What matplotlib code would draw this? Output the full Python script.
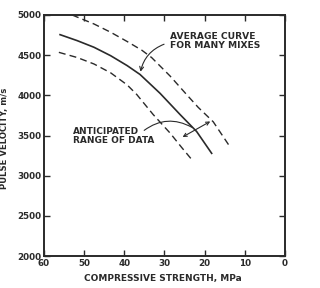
import matplotlib
matplotlib.use('Agg')
import matplotlib.pyplot as plt

# curves (compressive strength MPa, pulse velocity m/s)
avg_x = [56.0, 51.7, 47.55, 43.4, 39.3, 36.1, 31.1, 26.1, 22.0, 18.25]
avg_y = [4755, 4680, 4598, 4493, 4370, 4260, 4025, 3760, 3550, 3278]
upper_x = [53.0, 47.55, 43.4, 39.3, 35.6, 33.2, 28.6, 24.5, 21.6, 17.85, 13.7]
upper_y = [5000, 4888, 4785, 4670, 4560, 4470, 4240, 4010, 3850, 3670, 3360]
lower_x = [56.3, 51.7, 47.55, 43.4, 39.3, 36.9, 32.8, 28.6, 25.7, 23.2]
lower_y = [4535, 4470, 4390, 4280, 4130, 4010, 3760, 3530, 3350, 3200]

xticks = [60, 50, 40, 30, 20, 10, 0]
yticks = [2000, 2500, 3000, 3500, 4000, 4500, 5000]

col = '#2a2a2a'
plt.rcParams['font.family'] = 'DejaVu Sans'

fig = plt.figure(figsize=(3.2, 2.88), dpi=100)
ax = fig.add_axes([0.1375, 0.111, 0.753, 0.837])

ax.plot(avg_x, avg_y, color=col, lw=1.2)
ax.plot(upper_x, upper_y, color=col, lw=1.0, ls=(0, (5, 3)))
ax.plot(lower_x, lower_y, color=col, lw=1.0, ls=(0, (5, 3)))

ax.set_xlim(60, 0)
ax.set_ylim(2000, 5000)
ax.set_xticks(xticks)
ax.set_yticks(yticks)
ax.tick_params(direction='in', length=4, width=1, colors=col, labelsize=6.3,
               top=True, right=True, pad=2)
for lab in ax.get_xticklabels() + ax.get_yticklabels():
    lab.set_fontweight('bold')
for s in ax.spines.values():
    s.set_linewidth(1.4)
    s.set_color(col)

ax.set_xlabel('COMPRESSIVE STRENGTH, MPa', fontsize=6.5, fontweight='bold',
              color=col)
ax.xaxis.set_label_coords(0.492, -0.075)
ax.set_ylabel('PULSE VELOCITY, m/s', fontsize=6.1, fontweight='bold',
              color=col)
ax.yaxis.set_label_coords(-0.145, 0.49)

# annotations
ax.text(28.6, 4670, 'AVERAGE CURVE\nFOR MANY MIXES', fontsize=6.6,
        fontweight='bold', color=col, va='center', ha='left', linespacing=1.0)
ax.annotate('', xy=(36.1, 4260), xytext=(29.45, 4648),
            arrowprops=dict(arrowstyle='->', color=col, lw=0.8,
                            mutation_scale=7,
                            connectionstyle='arc3,rad=0.3'))

ax.text(52.7, 3500, 'ANTICIPATED\nRANGE OF DATA', fontsize=6.5,
        fontweight='bold', color=col, va='center', ha='left', linespacing=1.0)
ax.annotate('', xy=(22.6, 3585), xytext=(35.6, 3543),
            arrowprops=dict(arrowstyle='-', color=col, lw=0.8,
                            connectionstyle='arc3,rad=-0.35'))
ax.annotate('', xy=(18.0, 3692), xytext=(26.1, 3464),
            arrowprops=dict(arrowstyle='<->', color=col, lw=0.8,
                            mutation_scale=6))

fig.savefig('out.png', dpi=100)
